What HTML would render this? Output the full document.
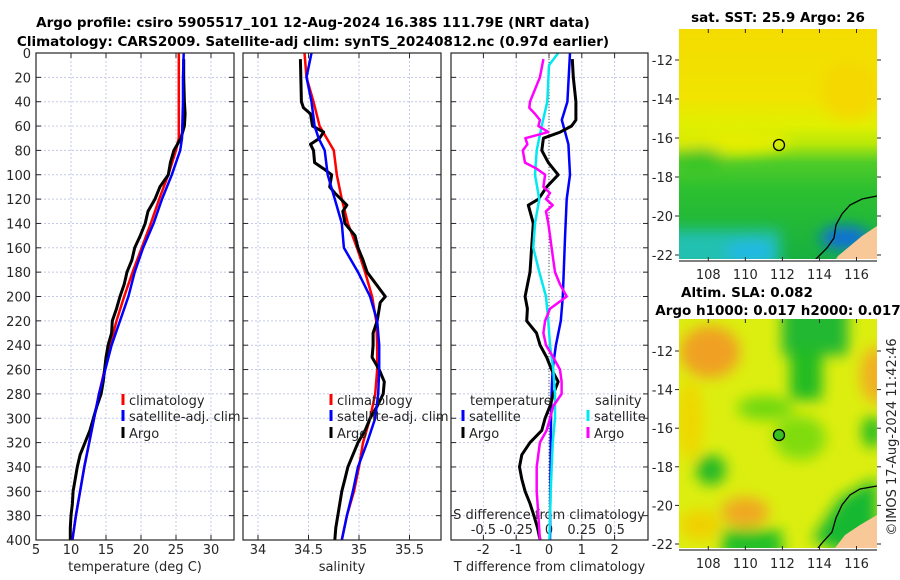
<!DOCTYPE html>
<html><head><meta charset="utf-8">
<style>
body{margin:0;background:#fff;}
svg{display:block;font-family:"DejaVu Sans","Liberation Sans",sans-serif;}
.tk{font-size:13px;fill:#262626;}
.tt{font-size:13.5px;font-weight:bold;fill:#000;}
</style></head>
<body>
<svg id="chart" width="900" height="580" viewBox="0 0 900 580">
<defs>
<filter id="blur4" filterUnits="userSpaceOnUse" x="600" y="0" width="300" height="580"><feGaussianBlur stdDeviation="7"/></filter>
<filter id="blur2" filterUnits="userSpaceOnUse" x="600" y="0" width="300" height="580"><feGaussianBlur stdDeviation="3"/></filter>
<linearGradient id="sstGrad" x1="0" y1="0" x2="0" y2="1">
  <stop offset="0" stop-color="#f4dc00"/>
  <stop offset="0.3" stop-color="#f0e400"/>
  <stop offset="0.42" stop-color="#e0f000"/>
  <stop offset="0.5" stop-color="#b8e808"/>
  <stop offset="0.58" stop-color="#50cc28"/>
  <stop offset="0.7" stop-color="#2cc030"/>
  <stop offset="1" stop-color="#18b040"/>
</linearGradient>
<clipPath id="clipTop"><rect x="679" y="29" width="198" height="230"/></clipPath>
<clipPath id="clipBot"><rect x="679" y="319" width="198" height="229"/></clipPath>
</defs>
<rect width="900" height="580" fill="#fff"/>
<text class="tt" x="313" y="27" text-anchor="middle">Argo profile: csiro 5905517_101 12-Aug-2024 16.38S 111.79E (NRT data)</text>
<text class="tt" x="313" y="46" text-anchor="middle">Climatology: CARS2009. Satellite-adj clim: synTS_20240812.nc (0.97d earlier)</text>

<!-- top map -->
<g clip-path="url(#clipTop)">
  <rect x="679" y="29" width="198" height="230" fill="url(#sstGrad)"/>
  <g filter="url(#blur4)">
    <ellipse cx="730" cy="140" rx="60" ry="14" fill="#e4ee00"/>
    <ellipse cx="850" cy="90" rx="30" ry="30" fill="#f4d800"/>
    <ellipse cx="700" cy="160" rx="25" ry="12" fill="#38c428"/>
    <rect x="660" y="230" width="120" height="40" fill="#20c0b0"/>
    <ellipse cx="750" cy="252" rx="25" ry="10" fill="#20b8e8"/>
    <ellipse cx="845" cy="238" rx="25" ry="12" fill="#1070d8"/>
  </g>
  <polygon points="877,226 862,236 850,246 838,256 834,262 877,262" fill="#f8c898"/>
  <polyline points="877,196 862,199 850,205 842,214 836,225 834,238 827,248 820,255 815,260" fill="none" stroke="#000" stroke-width="1.3"/>
  <circle cx="779" cy="145" r="5.5" fill="none" stroke="#000" stroke-width="1.3"/>
</g>
<line x1="679" y1="261" x2="877" y2="261" stroke="#000" stroke-width="1"/>
<g id="topMapAxes"></g>
<text class="tt" x="778" y="22" text-anchor="middle">sat. SST: 25.9 Argo: 26</text>

<!-- bottom map -->
<g clip-path="url(#clipBot)">
  <rect x="679" y="319" width="198" height="229" fill="#dcee10"/>
  <g filter="url(#blur4)">
    <ellipse cx="710" cy="352" rx="30" ry="26" fill="#f0a020"/>
    <ellipse cx="690" cy="420" rx="14" ry="40" fill="#eed800"/>
    <rect x="782" y="300" width="66" height="55" fill="#20b830"/>
    <rect x="790" y="350" width="32" height="50" fill="#22bb22"/>
    <ellipse cx="765" cy="408" rx="28" ry="12" fill="#70d810"/>
    <ellipse cx="800" cy="438" rx="26" ry="22" fill="#80dc10"/>
    <ellipse cx="876" cy="375" rx="16" ry="28" fill="#f0b020"/>
    <ellipse cx="872" cy="432" rx="10" ry="16" fill="#22bb22"/>
    <ellipse cx="711" cy="470" rx="15" ry="15" fill="#20b828"/>
    <ellipse cx="745" cy="512" rx="24" ry="15" fill="#f0a820"/>
    <ellipse cx="700" cy="525" rx="20" ry="15" fill="#f0d000"/>
    <rect x="722" y="530" width="60" height="30" fill="#22c028"/>
    <polygon points="877,478 840,498 812,540 877,565" fill="#18b830"/>
  </g>
  <polygon points="877,515 860,525 845,535 835,548 877,548" fill="#f8c898"/>
  <polyline points="877,486 860,489 850,495 842,505 836,518 832,532 822,543 818,548" fill="none" stroke="#000" stroke-width="1.3"/>
  <circle cx="779" cy="435" r="5.5" fill="#38c020" stroke="#000" stroke-width="1.3"/>
</g>
<line x1="679" y1="550" x2="877" y2="550" stroke="#000" stroke-width="1"/>
<g id="botMapAxes"></g>
<text class="tt" x="747" y="297" text-anchor="middle">Altim. SLA: 0.082</text>
<text class="tt" x="778" y="315" text-anchor="middle">Argo h1000: 0.017 h2000: 0.017</text>
<text class="tk" transform="translate(896,437) rotate(-90)" text-anchor="middle">©IMOS 17-Aug-2024 11:42:46</text>

<g id="plots"></g>
</svg>
<script>
// depth arrays and series
const depthClim = [0,20,40,60,70,80,100,120,140,160,180,200,220,240,260,280,300,320,340,360,380,400];
const tempClim = [25.4,25.4,25.4,25.4,25.4,25.0,23.9,22.6,21.4,20.1,18.8,17.6,16.5,15.6,14.8,14.0,13.3,12.6,11.9,11.3,10.7,10.2];
const tempSat  = [26.1,26.0,26.0,25.9,25.85,25.6,24.4,23.0,21.8,20.3,19.1,18.2,17.0,15.8,14.9,14.0,13.3,12.6,11.9,11.3,10.7,10.2];
const depthArgo = [5,20,40,50,60,70,80,90,100,110,120,130,140,150,160,170,180,190,200,210,220,230,240,250,260,270,280,290,300,310,320,330,340,350,360,370,380,390,400];
const tempArgo = [26.1,26.1,26.2,26.3,26.2,25.7,24.7,24.2,23.9,22.7,22.0,21.0,20.6,19.9,19.1,18.7,18.0,17.6,17.0,16.5,15.9,15.8,15.3,15.0,14.8,14.6,14.3,13.7,13.2,12.7,12.0,11.3,10.9,10.6,10.3,10.2,10.0,9.9,9.9];
const salClim = [34.46,34.48,34.55,34.61,34.68,34.75,34.78,34.83,34.89,34.98,35.06,35.13,35.17,35.18,35.18,35.16,35.11,35.04,35.00,34.95,34.88,34.83];
const salSat  = [34.53,34.48,34.53,34.56,34.6,34.66,34.69,34.76,34.83,34.85,34.99,35.11,35.18,35.20,35.20,35.19,35.16,35.08,34.99,34.94,34.88,34.83];
const depthSalArgo = [5,40,45,50,60,65,70,75,80,90,95,100,110,115,125,130,140,150,160,170,180,190,200,205,220,230,240,250,260,270,280,290,300,310,320,330,340,350,360,370,380,390,400];
const salArgo = [34.42,34.43,34.45,34.52,34.54,34.65,34.61,34.52,34.55,34.56,34.65,34.73,34.71,34.76,34.88,34.84,34.86,34.96,34.99,35.04,35.08,35.17,35.26,35.21,35.18,35.14,35.14,35.13,35.20,35.25,35.24,35.18,35.11,35.06,34.99,34.94,34.89,34.86,34.83,34.81,34.79,34.77,34.76];
// differences
const depthTdSat = [0,40,55,65,75,100,120,150,200,220,240,260,280,300,400];
const tDiffSat = [0.64,0.56,0.39,0.49,0.59,0.64,0.54,0.49,0.42,0.36,0.21,0.11,0.08,0.06,0.03];
const depthTdArgo = [5,20,40,55,60,65,70,80,90,100,110,120,125,140,160,180,200,210,220,230,240,250,260,270,280,290,300,310,320,330,340,350,360,370,380,390,400];
const tDiffArgo = [0.71,0.74,0.82,0.82,0.69,0.34,-0.17,-0.22,-0.02,0.28,-0.07,-0.32,-0.63,-0.48,-0.53,-0.58,-0.73,-0.66,-0.68,-0.38,-0.27,-0.07,0.08,0.28,0.13,0.03,-0.12,-0.22,-0.58,-0.83,-0.90,-0.83,-0.73,-0.58,-0.46,-0.35,-0.27];
const depthSdSat = [0,10,40,60,80,100,120,140,160,180,200,220,240,260,280,300,320,360,400];
const sDiffSat = [0.07,0.0,-0.013,-0.056,-0.094,-0.107,-0.074,-0.107,-0.12,-0.074,-0.023,-0.005,0.008,0.033,0.046,0.046,0.028,0.013,0.003];
const depthSdArgo = [5,20,40,45,50,55,60,65,70,75,80,90,95,100,110,115,120,125,130,140,150,160,180,190,200,205,210,220,230,240,250,260,270,280,290,300,310,320,340,360,380,400];
const sDiffArgo = [-0.043,-0.069,-0.145,-0.15,-0.107,-0.069,-0.081,-0.005,-0.18,-0.165,-0.2,-0.183,-0.094,-0.03,-0.043,0.008,-0.023,0.028,-0.023,-0.005,0.008,0.02,0.046,0.084,0.135,0.071,0.008,-0.03,-0.043,-0.023,0.033,0.084,0.096,0.096,0.033,0.008,-0.018,-0.069,-0.094,-0.094,-0.081,-0.069];
const depthTicks = [0,20,40,60,80,100,120,140,160,180,200,220,240,260,280,300,320,340,360,380,400];
const tempTicks = [5,10,15,20,25,30];
const salTicks = [34,34.5,35,35.5];
const tdTicks = [-2,-1,0,1,2];
const sdTicks = [-0.5,-0.25,0,0.25,0.5];
const lonTicks = [108,110,112,114,116];
const latTicks = [-12,-14,-16,-18,-20,-22];

const NS='http://www.w3.org/2000/svg';
const root=document.getElementById('plots');
function mk(tag,attrs,parent){const e=document.createElementNS(NS,tag);for(const k in attrs)e.setAttribute(k,attrs[k]);(parent||root).appendChild(e);return e;}
const Y0=53,Y1=540;
const yD=d=>Y0+(d/400)*(Y1-Y0);
function lin(d0,d1,p0,p1){return v=>p0+(v-d0)/(d1-d0)*(p1-p0);}
const panels=[
 {x0:36,x1:234,sx:lin(5,30,36,211),ticks:tempTicks,label:'temperature (deg C)',name:'temperature-panel'},
 {x0:243,x1:441,sx:lin(34,35,258,359),ticks:salTicks,label:'salinity',name:'salinity-panel'},
 {x0:451,x1:648,sx:lin(0,1,549,581.8),ticks:tdTicks,label:'T difference from climatology',name:'difference-panel'}
];
panels.forEach((p,i)=>{
  const g=mk('g',{});
  
  
  depthTicks.forEach(d=>{
    const l=mk('line',{x1:p.x0,x2:p.x1,y1:yD(d),y2:yD(d),stroke:'#c4c8e8','stroke-width':1,'stroke-dasharray':'2,2'},g);
    
    
    mk('line',{x1:p.x0,x2:p.x0+5,y1:yD(d),y2:yD(d),stroke:'#262626'},g);
    mk('line',{x1:p.x1-5,x2:p.x1,y1:yD(d),y2:yD(d),stroke:'#262626'},g);
    if(i===0){const t=mk('text',{class:'tk',x:31,y:yD(d)+5,'text-anchor':'end'},g);t.textContent=d;
      
      }
  });
  p.ticks.forEach(v=>{
    const x=p.sx(v);
    const l=mk('line',{x1:x,x2:x,y1:Y0,y2:Y1,stroke:'#c4c8e8','stroke-width':1,'stroke-dasharray':'2,2'},g);
    
    
    mk('line',{x1:x,x2:x,y1:Y1-5,y2:Y1,stroke:'#262626'},g);
    mk('line',{x1:x,x2:x,y1:Y0,y2:Y0+5,stroke:'#262626'},g);
    const t=mk('text',{class:'tk',x:x,y:554,'text-anchor':'middle'},g);t.textContent=v;
    
    
  });
  if(i===2){
    const sx=v=>p.sx(v*4);
    const t=mk('text',{class:'tk',x:549,y:519,'text-anchor':'middle'},g);t.textContent='S difference from climatology';
    
    
    sdTicks.forEach(v=>{const tt=mk('text',{class:'tk',x:sx(v),y:534,'text-anchor':'middle'},g);tt.textContent=v;
      
      });
  }
  const lab=mk('text',{class:'tk',x:(p.x0+p.x1)/2,y:571,'text-anchor':'middle'},g);lab.textContent=p.label;
  
  
  p.g=g;
});
function line(xs,ds,sx,color,w,name,parent){
  const pts=xs.map((v,k)=>sx(v).toFixed(1)+','+yD(ds[k]).toFixed(1)).join(' ');
  const e=mk('polyline',{points:pts,fill:'none',stroke:color,'stroke-width':w,'stroke-linejoin':'round'},parent);
  
  
}
const P=panels;
line(tempClim,depthClim,P[0].sx,'#ff0000',2.5,'temperature-climatology-line',P[0].g);
line(tempArgo,depthArgo,P[0].sx,'#000',3,'temperature-argo-line',P[0].g);
line(tempSat,depthClim,P[0].sx,'#0000ff',2.5,'temperature-satellite-line',P[0].g);
line(salClim,depthClim,P[1].sx,'#ff0000',2.5,'salinity-climatology-line',P[1].g);
line(salArgo,depthSalArgo,P[1].sx,'#000',3,'salinity-argo-line',P[1].g);
line(salSat,depthClim,P[1].sx,'#0000ff',2.5,'salinity-satellite-line',P[1].g);
const z=mk('line',{x1:549,x2:549,y1:Y0,y2:Y1,stroke:'#555','stroke-width':1,'stroke-dasharray':'1,2'},P[2].g);


const sdx=v=>P[2].sx(v*4);
line(tDiffSat,depthTdSat,P[2].sx,'#0000ff',2.5,'t-diff-satellite-line',P[2].g);
line(tDiffArgo,depthTdArgo,P[2].sx,'#000',3,'t-diff-argo-line',P[2].g);
line(sDiffSat,depthSdSat,sdx,'#00e8f0',2.5,'s-diff-satellite-line',P[2].g);
line(sDiffArgo,depthSdArgo,sdx,'#ff00ff',2.5,'s-diff-argo-line',P[2].g);
panels.forEach(p=>{const r=mk('rect',{x:p.x0,y:Y0,width:p.x1-p.x0,height:Y1-Y0,fill:'none',stroke:'#262626','stroke-width':1.2},p.g);
  
  });
function legend(x,y,color,text,g){
  mk('rect',{x:x-1.5,y:y-11,width:3,height:11,fill:color},g);
  if(text){const t=mk('text',{class:'tk',x:x+6,y:y},g);t.textContent=text;
    
    }
}
[[0,123],[1,331]].forEach(([i,x])=>{
  legend(x,405,'#ff0000','climatology',P[i].g);
  legend(x,421,'#0000ff','satellite-adj. clim',P[i].g);
  legend(x,438,'#000','Argo',P[i].g);
});
(function(){const g=P[2].g;
 const t1=mk('text',{class:'tk',x:470,y:405},g);t1.textContent='temperature';
 
 
 const t2=mk('text',{class:'tk',x:595,y:405},g);t2.textContent='salinity';
 
 
 legend(463,421,'#0000ff','satellite',g);legend(463,438,'#000','Argo',g);
 legend(588,421,'#00e8f0','satellite',g);legend(588,438,'#ff00ff','Argo',g);
})();
function mapAxes(gid,yTop,yBot,latY,lonY){
  const g=document.getElementById(gid);
  const lx=lin(108,116,708.3,856.5);
  lonTicks.forEach(v=>{const x=lx(v);
    mk('line',{x1:x,x2:x,y1:yBot-4,y2:yBot,stroke:'#262626'},g);
    mk('line',{x1:x,x2:x,y1:yTop,y2:yTop+4,stroke:'#262626'},g);
    const t=mk('text',{class:'tk',x:x,y:lonY,'text-anchor':'middle'},g);t.textContent=v;
    
    });
  latTicks.forEach(v=>{const y=latY(v);
    mk('line',{x1:877,x2:881,y1:y,y2:y,stroke:'#262626'},g);
    mk('line',{x1:675,x2:679,y1:y,y2:y,stroke:'#262626'},g);
    const t=mk('text',{class:'tk',x:673,y:y+5,'text-anchor':'end'},g);t.textContent=v;
    
    });
}
mapAxes('topMapAxes',29,261,lin(-12,-22,60,255),279);
mapAxes('botMapAxes',319,550,lin(-12,-22,351,544),568);
</script>
</body></html>
